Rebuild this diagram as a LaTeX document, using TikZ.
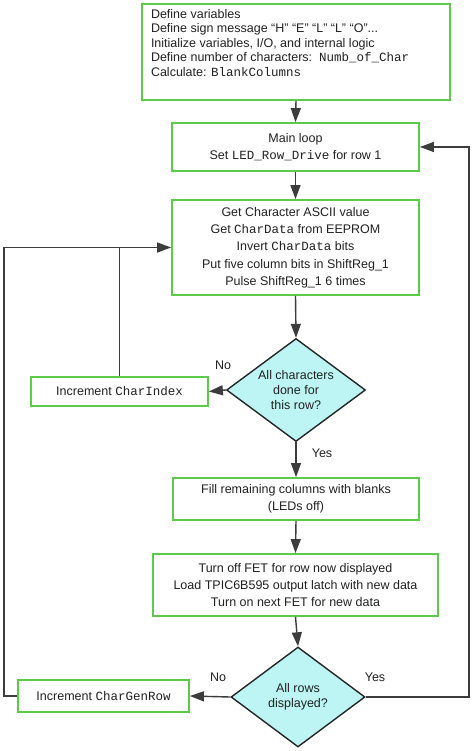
\documentclass[tikz,border=0pt]{standalone}
\usepackage{fontspec}
\setmainfont{Liberation Sans}
\setmonofont{Liberation Mono}
\usetikzlibrary{shapes.geometric,arrows.meta}
\definecolor{boxgreen}{HTML}{5CCB4A}
\definecolor{dcyan}{HTML}{BDF4F4}
\definecolor{lgray}{HTML}{3C3C3C}
\definecolor{tgray}{HTML}{222222}
\begin{document}
\begin{tikzpicture}[x=1pt,y=-1pt,
  box/.style={draw=boxgreen, line width=1.8pt, fill=white, inner sep=0pt, align=center,
    text=tgray, font=\fontsize{12.5}{17.3}\selectfont},
  dec/.style={draw=black!85, line width=1.4pt, fill=dcyan, shape=diamond, inner sep=-12pt,
    align=center, text=tgray, font=\fontsize{12.5}{14.8}\selectfont},
  lbl/.style={text=tgray, font=\fontsize{12.5}{15}\selectfont, inner sep=0pt},
  conn/.style={draw=lgray, line width=1.4pt},
  arr/.style={conn, -{Triangle[length=14pt,width=10pt]}},
]
\useasboundingbox (0,0) rectangle (474,751);
\fill[white] (0,0) rectangle (474,751);

\node[box, minimum width=308pt, minimum height=96pt] (init) at (296,52)
  {\parbox[c][96pt][t]{290pt}{\raggedright\fontsize{12.5}{14.6}\selectfont\vspace*{5pt}%
  Define variables\\
  Define sign message “H” “E” “L” “L” “O”...\\
  Initialize variables, I/O, and internal logic\\
  Define number of characters:~~\texttt{Numb\_of\_Char}\\
  Calculate: \texttt{BlankColumns}}};

\node[box, minimum width=247pt, minimum height=48pt] (main) at (295.5,147)
  {Main loop\\ Set \texttt{LED\_Row\_Drive} for row 1};

\node[box, minimum width=247pt, minimum height=95pt] (chars) at (295.5,247.5)
  {Get Character ASCII value\\
   Get \texttt{CharData} from EEPROM\\
   Invert \texttt{CharData} bits\\
   Put five column bits in ShiftReg\_1\\
   Pulse ShiftReg\_1 6 times};

\node[dec, minimum width=139pt, minimum height=103pt] (d1) at (296,390)
  {All characters\\ done for\\ this row?};

\node[box, minimum width=177pt, minimum height=29pt] (ci) at (119.5,391.5)
  {Increment \texttt{CharIndex}};

\node[box, minimum width=246pt, minimum height=42pt] (fill) at (296,499)
  {Fill remaining columns with blanks\\ (LEDs off)};

\node[box, minimum width=285pt, minimum height=62pt] (fet) at (295.5,585)
  {Turn off FET for row now displayed\\
   Load TPIC6B595 output latch with new data\\
   Turn on next FET for new data};

\node[dec, minimum width=134pt, minimum height=100pt] (d2) at (298,697)
  {All rows\\ displayed?};

\node[box, minimum width=171pt, minimum height=32pt] (cgr) at (103.5,696)
  {Increment \texttt{CharGenRow}};

\coordinate (rr) at (469,697);
\coordinate (ll) at (4,696);

\draw[arr] (init.south) -- (main.north);
\draw[arr] (main.south) -- (chars.north);
\draw[arr] (chars.south) -- (d1.north);
\draw[arr] (d1.west) -- (ci.east);
\draw[conn] (ci.north) -- (ci.north |- chars.west);
\draw[arr] (d1.south) -- (fill.north);
\draw[arr] (fill.south) -- (fet.north);
\draw[arr] (fet.south) -- (d2.north);
\draw[arr] (d2.west) -- (cgr.east);
\draw[arr] (cgr.west) -- (ll) |- (chars.west);
\draw[arr] (d2.east) -- (rr) |- (main.east);

\node[lbl] (no1) at (223,365) {No};
\node[lbl] (yes1) at (322,453) {Yes};
\node[lbl] (no2) at (218,677) {No};
\node[lbl] (yes2) at (375,677) {Yes};
\end{tikzpicture}
\end{document}
